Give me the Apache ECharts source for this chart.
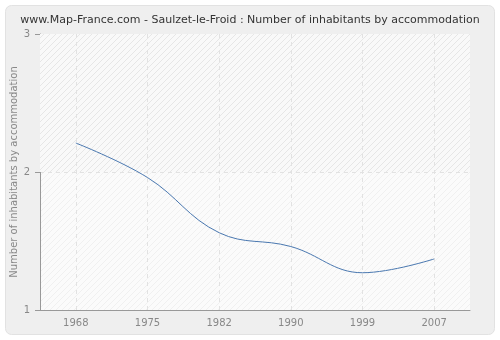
<!DOCTYPE html>
<html><head><meta charset="utf-8">
<script src="https://cdn.jsdelivr.net/npm/echarts@6/dist/echarts.min.js"></script>
<style>html,body{margin:0;padding:0;background:#fff}#c{width:500px;height:340px}</style>
</head><body><div id="c"></div>
<script>
var years = ['1968','1975','1982','1990','1999','2007'];
var values = [2.21, 1.96, 1.56, 1.46, 1.27, 1.37];
var yTicks = [1, 2, 3];

function hatch(bg, line) {
  var c = document.createElement('canvas');
  c.width = 6; c.height = 6;
  var g = c.getContext('2d');
  g.fillStyle = bg; g.fillRect(0, 0, 6, 6);
  g.strokeStyle = line; g.lineWidth = 1;
  g.beginPath();
  g.moveTo(-1, 7); g.lineTo(7, -1);
  g.moveTo(-1, 1); g.lineTo(1, -1);
  g.moveTo(5, 7); g.lineTo(7, 5);
  g.stroke();
  return {image: c, repeat: 'repeat'};
}

var chart = echarts.init(document.getElementById('c'), null, {renderer: 'canvas'});
chart.setOption({
  animation: false,
  backgroundColor: '#ffffff',
  graphic: [{
    type: 'rect', z: -10, silent: true,
    shape: {x: 5.5, y: 5.5, width: 489, height: 329, r: 6},
    style: {fill: '#efefef', stroke: '#e2e2e2', lineWidth: 1}
  }],
  title: {
    text: 'www.Map-France.com - Saulzet-le-Froid : Number of inhabitants by accommodation',
    left: 'center', top: 10,
    textStyle: {fontFamily: 'DejaVu Sans', fontSize: 11, fontWeight: 'normal', color: '#333'}
  },
  grid: {left: 40, right: 30, top: 34, bottom: 30, show: true, outerBoundsMode: 'none',
    containLabel: false,
    backgroundColor: hatch('#fbfbfb', '#f0f0f0'), borderWidth: 0},
  xAxis: {
    type: 'category', data: years, boundaryGap: true,
    axisLine: {lineStyle: {color: '#999'}},
    axisTick: {alignWithLabel: true, length: 5, lineStyle: {color: '#999'}},
    axisLabel: {color: '#888', fontFamily: 'DejaVu Sans', fontSize: 10, margin: 8},
    splitLine: {show: false}
  },
  yAxis: {
    type: 'value', min: yTicks[0], max: yTicks[yTicks.length - 1], interval: 1,
    name: 'Number of inhabitants by accommodation', nameLocation: 'middle', nameGap: 21,
    nameMoveOverlap: false,
    nameTextStyle: {color: '#888', fontFamily: 'DejaVu Sans', fontSize: 10},
    axisLine: {show: true, lineStyle: {color: '#999'}},
    axisTick: {show: true, length: 5, lineStyle: {color: '#999'}},
    axisLabel: {color: '#888', fontFamily: 'DejaVu Sans', fontSize: 10, margin: 10},
    splitLine: {show: true, lineStyle: {color: '#e2e2e2', type: [4, 4]}}
  },
  series: [{
    type: 'line', data: values, smooth: 0.4, showSymbol: false,
    lineStyle: {color: '#4a78b0', width: 1},
    markArea: {silent: true,
      itemStyle: {color: hatch('#f9f9f9', '#e6e6e6')},
      data: [[{yAxis: 2}, {yAxis: 3}]]},
    markLine: {silent: true, symbol: 'none', label: {show: false},
      lineStyle: {color: '#e2e2e2', type: [4, 4], width: 1},
      data: years.map(function (y) { return {xAxis: y}; })},
    z: 5
  }]
});
</script></body></html>
